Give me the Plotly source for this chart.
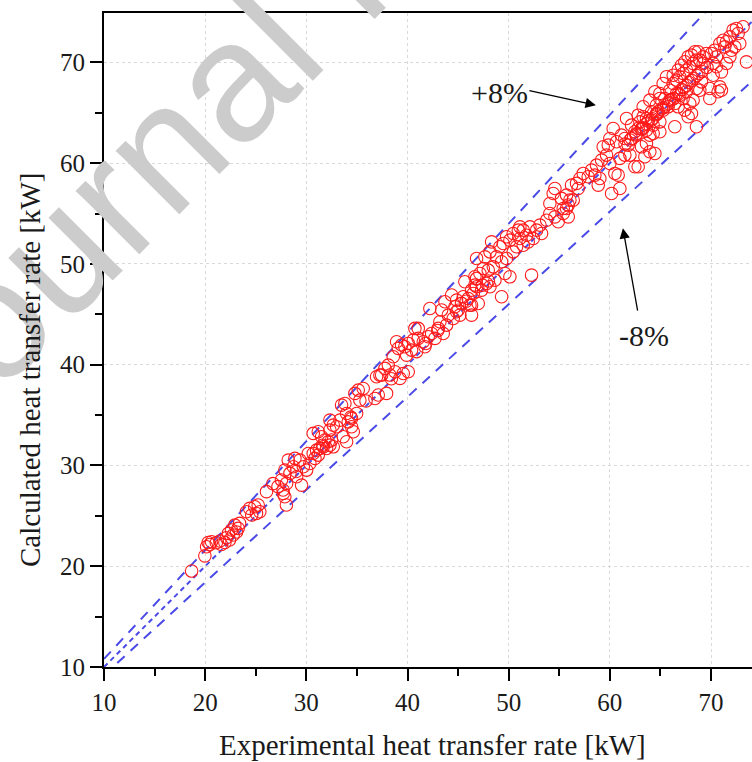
import plotly.graph_objects as go

# ---- data ----
exp_kw = [
    18.66, 19.97, 20.14, 20.47, 20.30, 20.63, 21.10, 21.45, 21.60, 21.95, 22.10, 22.40, 22.30, 22.60, 22.77,
    22.93, 23.10, 23.40, 23.26, 24.08, 24.40, 24.60, 24.90, 25.24, 25.07, 25.40, 26.06, 26.70, 27.20, 27.54,
    27.70, 27.87, 28.03,
    27.72, 28.05, 28.38, 27.88, 28.71, 29.04, 29.53, 28.21, 28.87, 29.37, 29.70, 30.03, 30.35, 30.19, 30.68,
    30.85, 31.01, 31.18, 31.34, 31.67, 32.00, 32.33, 32.66, 32.50, 31.84, 32.17, 31.51, 30.68, 31.18, 32.33,
    32.33, 32.66, 32.99, 33.32, 33.48, 33.81, 33.98, 34.14, 34.47, 34.47, 34.64, 33.98, 33.65, 34.97, 34.80,
    35.13, 35.62, 35.29, 36.94, 36.78, 37.27,
    37.11, 37.93, 37.44, 37.77, 38.10, 38.26, 38.76, 39.25, 39.58, 40.07, 38.59, 39.09, 39.41, 39.74, 40.07,
    40.40, 39.91, 38.92, 40.73, 41.06, 41.56, 41.72, 42.05, 42.38, 42.71, 43.04, 43.20, 43.53, 43.86, 44.03,
    44.52, 44.85, 45.18, 45.34, 44.85, 45.51, 46.00, 46.33, 46.17, 46.66, 46.83, 45.67, 46.33, 44.69, 42.21,
    43.37, 43.70, 44.36, 41.06, 40.57,
    46.33, 46.99, 46.50, 46.83, 47.32, 47.82, 48.15, 48.64, 49.30, 46.66, 47.16, 47.49, 47.98, 48.48, 46.83,
    47.65, 48.15, 48.80, 49.30, 49.79, 49.13, 49.46, 49.79, 50.12, 50.45, 50.95, 51.11, 51.44, 51.77, 52.10,
    52.76, 53.25, 53.09, 53.75, 54.07, 54.57, 54.90, 55.39, 55.72, 56.05, 55.89, 54.40, 54.57, 54.07, 52.26,
    50.12, 49.63, 48.31, 50.45, 51.11, 51.44, 52.43, 51.93, 50.78,
    55.39, 55.88, 55.22, 55.72, 56.38, 56.87, 56.71, 57.04, 56.21, 57.37, 57.86, 58.19, 58.52, 58.85, 59.01,
    58.68, 59.18, 59.67, 60.00, 60.17, 60.99, 60.50, 60.82, 59.34, 59.84, 60.33, 60.00, 60.66, 61.15, 61.48,
    61.81, 62.14, 62.47, 62.80, 62.97, 63.29, 63.62, 64.12, 64.61, 64.94, 64.78, 63.95, 64.45, 63.95, 64.45,
    63.46, 62.80, 62.47, 63.13, 63.62, 61.98, 61.48, 60.99, 61.65, 62.14, 62.80, 63.29, 63.62, 63.95, 64.28,
    64.94,
    64.28, 64.94, 64.11, 64.61, 65.27, 65.76, 66.42, 68.56, 67.41, 67.74, 68.07, 67.90, 68.23, 67.24, 66.91,
    67.57, 68.56, 68.89, 69.06, 69.88, 70.21, 70.54, 71.03, 70.87, 71.03, 70.70, 69.88, 65.93, 66.26, 66.59,
    66.91, 67.24, 67.57, 67.90, 68.23, 68.56, 68.89, 69.22, 69.55, 69.22, 70.04, 70.37, 70.54, 70.87, 71.20,
    71.53, 71.86, 72.18, 72.51, 72.68, 72.84, 72.35, 72.02, 71.86, 73.17, 73.50, 71.53, 71.36, 70.21, 64.94,
    65.43, 65.93, 66.42, 66.75, 65.27, 65.60, 66.26, 66.75, 67.08, 67.41, 67.74, 68.07, 68.40, 68.73,
    65.10, 65.60, 66.10, 66.60, 67.10, 67.60, 68.10, 68.60, 69.10, 69.60, 64.60, 63.80, 63.30, 62.60,
    63.10, 63.60, 64.20, 64.70, 65.30, 65.80, 66.30, 66.80, 67.30, 67.80, 68.30, 68.80, 61.50, 62.00,
    62.60, 63.20, 45.00, 45.80, 47.40, 48.00, 43.00, 41.80, 40.90, 38.40, 35.90, 34.40, 31.60, 29.00,
]
calc_kw = [
    19.52, 21.03, 21.93, 22.16, 22.36, 22.43, 22.33, 22.50, 22.16, 22.36, 22.83, 22.60, 23.26, 23.60, 23.10,
    24.08, 23.40, 24.25, 23.76, 25.40, 25.74, 25.08, 25.90, 26.07, 25.24, 25.40, 27.40, 28.20, 27.90, 28.55,
    27.56, 26.90, 26.07,
    27.22, 28.22, 29.21, 29.54, 29.87, 28.88, 28.05, 30.53, 30.70, 30.53, 29.87, 29.54, 30.20, 31.19, 31.19,
    30.70, 31.52, 31.03, 31.69, 31.85, 31.69, 32.02, 31.85, 32.52, 32.52, 32.35, 32.85, 33.18, 33.34, 33.51,
    34.50, 34.00, 33.84, 34.50, 35.99, 36.15, 35.16, 34.33, 33.84, 34.66, 33.34, 32.35, 32.85, 35.16, 37.15,
    37.48, 37.64, 36.48, 38.80, 36.65, 38.96,
    36.99, 37.15, 38.97, 39.63, 39.96, 38.97, 39.30, 38.64, 39.13, 39.30, 40.79, 41.62, 41.95, 41.78, 42.11,
    41.45, 40.95, 42.28, 43.60, 43.60, 42.28, 41.78, 42.77, 43.10, 42.61, 43.60, 44.26, 43.10, 43.93, 44.92,
    44.59, 45.25, 44.92, 46.08, 46.41, 46.74, 46.57, 47.40, 45.91, 47.90, 48.56, 48.23, 44.92, 45.75, 45.58,
    45.42, 46.24, 46.91, 42.61, 42.44,
    45.91, 46.07, 47.07, 47.73, 47.40, 48.06, 47.73, 48.39, 46.74, 48.72, 49.05, 49.55, 49.38, 49.71, 50.54,
    50.70, 51.20, 50.70, 50.21, 50.54, 51.70, 52.03, 52.69, 52.36, 53.02, 53.35, 52.52, 51.86, 52.85, 53.68,
    53.35, 53.02, 53.85, 54.34, 55.00, 54.67, 54.18, 55.00, 55.50, 56.33, 54.67, 56.99, 57.48, 55.99, 48.89,
    48.72, 49.05, 52.19, 51.20, 53.68, 53.35, 52.52, 52.19, 51.70,
    55.50, 55.84, 56.50, 56.83, 56.33, 57.49, 57.99, 58.48, 57.82, 58.98, 58.65, 59.31, 58.81, 57.82, 58.48,
    59.80, 60.30, 60.80, 59.97, 56.99, 57.49, 58.98, 58.81, 61.62, 61.79, 63.44, 62.45, 62.12, 62.78, 62.45,
    61.79, 62.45, 63.11, 63.44, 64.10, 64.60, 64.43, 65.10, 65.76, 66.42, 65.10, 66.25, 67.08, 61.13, 60.96,
    60.63, 59.64, 59.64, 61.62, 61.95, 60.80, 60.80, 60.47, 64.43, 63.77, 64.76, 65.59, 63.28, 62.78, 63.77,
    64.10,
    62.94, 63.11, 64.27, 64.93, 65.26, 65.59, 63.61, 63.61, 65.26, 64.60, 64.93, 65.92, 66.25, 66.42, 66.75,
    67.08, 67.41, 67.24, 68.07, 66.42, 68.73, 69.56, 69.06, 67.57, 67.24, 67.08, 67.41, 67.24, 67.90, 68.24,
    68.57, 68.90, 69.23, 69.56, 69.89, 70.22, 70.22, 70.55, 70.88, 69.89, 70.88, 71.21, 70.55, 71.87, 72.20,
    72.04, 72.53, 73.20, 73.36, 72.87, 71.87, 71.54, 71.21, 70.55, 73.53, 70.05, 69.89, 71.54, 69.89, 66.91,
    66.42, 66.25, 65.92, 65.59, 67.90, 68.57, 68.73, 69.23, 69.72, 70.06, 70.55, 70.72, 71.05, 71.05,
    65.40, 65.80, 66.30, 66.90, 67.30, 67.70, 68.20, 68.70, 69.10, 69.50, 64.80, 64.20, 63.50, 62.90,
    63.40, 63.90, 64.40, 64.90, 65.50, 65.90, 66.40, 66.90, 67.50, 68.00, 68.40, 68.90, 61.90, 62.30,
    62.80, 63.40, 45.40, 46.30, 47.90, 48.30, 43.40, 42.10, 41.30, 38.60, 36.40, 34.80, 32.00, 29.40,
]

ratio_names = ["-8%", "0%", "+8%"]
ratios = [0.92, 1.00, 1.08]
line_x = [10, 80]

x_ticks = [10, 20, 30, 40, 50, 60, 70]
y_ticks = [10, 20, 30, 40, 50, 60, 70]

x_title = "Experimental heat transfer rate [kW]"
y_title = "Calculated heat transfer rate [kW]"
watermark = "Journal Pre-proof"

SERIF = "Liberation Serif"

fig = go.Figure()

dashes = {"-8%": "10px,8px", "0%": "5px,4px", "+8%": "10px,8px"}
for name, r in zip(ratio_names, ratios):
    fig.add_trace(go.Scatter(
        x=line_x, y=[r * v for v in line_x], mode="lines",
        line=dict(color="#4a4ae8", width=2, dash=dashes[name]),
        showlegend=False, hoverinfo="skip"))

fig.add_trace(go.Scatter(
    x=exp_kw, y=calc_kw, mode="markers",
    marker=dict(symbol="circle-open", size=12.5, color="#ff1a1a", line=dict(width=1.1, color="#ff1a1a")),
    showlegend=False))

L, R, T, B = 104, 0, 13, 95
W, H = 752, 762
pw, ph = W - L - R, H - T - B

def px_x(p):
    return (p - L) / pw

def px_y(p):
    return (H - B - p) / ph

axis_common = dict(
    showline=True, linecolor="black", linewidth=2,
    ticks="outside", ticklen=12, tickwidth=2, tickcolor="black",
    showgrid=True, gridcolor="#d9d9d9", gridwidth=1, griddash="dot",
    zeroline=False,
    tickfont=dict(family=SERIF, size=25, color="#1a1a1a"),
    minor=dict(dtick=5, ticks="outside", ticklen=7, tickwidth=2, tickcolor="black", showgrid=False),
)

fig.update_xaxes(range=[10, 74.05], tickvals=x_ticks, mirror=True, **axis_common)
fig.update_yaxes(range=[10, 74.9], tickvals=y_ticks, mirror=False, **axis_common)

annotations = [
    dict(text=watermark, xref="paper", yref="paper", x=px_x(360), y=px_y(-50),
         showarrow=False, textangle=-45, xanchor="center", yanchor="middle",
         font=dict(family="Liberation Sans", size=170, color="#cccccc")),
    dict(text=x_title, xref="paper", yref="paper", x=px_x(432), y=px_y(745),
         showarrow=False, xanchor="center", yanchor="middle",
         font=dict(family=SERIF, size=29, color="#1a1a1a")),
    dict(text=y_title, xref="paper", yref="paper", x=px_x(30), y=px_y(370),
         showarrow=False, textangle=-90, xanchor="center", yanchor="middle",
         font=dict(family=SERIF, size=29, color="#1a1a1a")),
    dict(text="+8%", x=49.13, y=67.04, xref="x", yref="y", showarrow=False,
         font=dict(family=SERIF, size=30, color="#1a1a1a")),
    dict(text="-8%", x=63.36, y=42.94, xref="x", yref="y", showarrow=False,
         font=dict(family=SERIF, size=30, color="#1a1a1a")),
    dict(text="", x=58.62, y=65.75, xref="x", yref="y", ax=51.9, ay=67.24, axref="x", ayref="y",
         showarrow=True, arrowhead=2, arrowsize=1.6, arrowwidth=1.3, arrowcolor="black"),
    dict(text="", x=61.29, y=53.55, xref="x", yref="y", ax=62.77, ay=45.22, axref="x", ayref="y",
         showarrow=True, arrowhead=2, arrowsize=1.6, arrowwidth=1.3, arrowcolor="black"),
]

fig.update_layout(
    width=W, height=H,
    margin=dict(l=L, r=R, t=T, b=B),
    paper_bgcolor="white", plot_bgcolor="white",
    font=dict(family=SERIF),
    annotations=annotations,
    showlegend=False,
)

fig.write_html("out.html", config={"displayModeBar": False},
               post_script="document.body.style.margin='0';document.body.style.overflow='hidden';")
